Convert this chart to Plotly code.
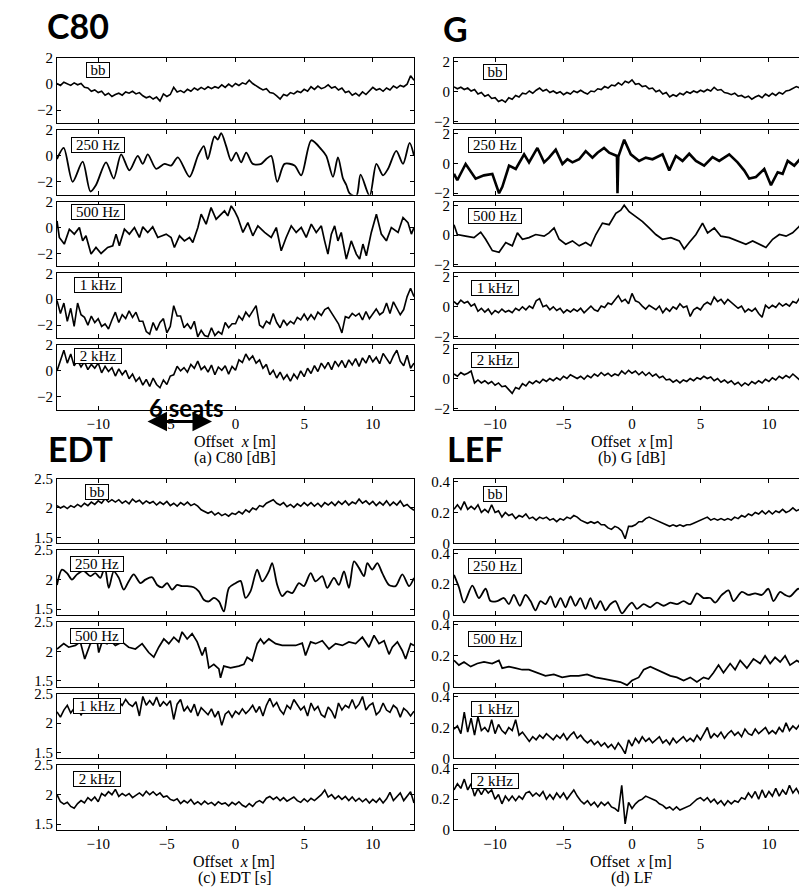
import plotly.graph_objects as go

# ---------------- data ----------------
OFFSET_TICKS = [-10, -5, 0, 5, 10]
GRID_STEP = 0.25  # sampling step of the grid-read series (m), starting at -13 m

# C80 [dB]
C80_BB_Y = [0.05, -0.1, 0.15, 0.0, -0.1, 0.1, -0.05, 0.05, -0.25, -0.3, -0.55, -0.45, -0.65,
            -0.55, -0.85, -0.7, -0.95, -0.8, -0.7, -0.85, -0.6, -0.7, -0.55, -0.75, -0.65,
            -0.9, -1.05, -0.95, -1.15, -1.0, -1.3, -0.75, -0.95, -0.8, -0.25, -0.6, -0.5,
            -0.65, -0.4, -0.55, -0.3, -0.45, -0.25, -0.4, -0.2, -0.35, -0.2, -0.3, -0.05,
            -0.25, 0.0, -0.2, 0.05, -0.1, 0.1, 0.0, 0.3, 0.05, -0.15, -0.3, -0.45,
            -0.35, -0.65, -0.7, -0.9, -1.15, -0.8, -0.9, -0.65, -0.75, -0.55, -0.65, -0.4,
            -0.55, -0.2, -0.4, -0.15, -0.35, -0.25, -0.05, -0.3, -0.2, -0.45, -0.3, -0.65,
            -0.55, -0.85, -0.7, -0.9, -0.6, -0.8, -0.5, -0.25, -0.45, -0.35, -0.55, -0.3,
            -0.45, -0.15, -0.3, -0.1, -0.2, 0.0, 0.65, 0.3]

C80_250_X = [-13, -12.51, -11.86, -11.13, -10.57, -10.16, -9.43, -8.87, -8.33, -7.73, -7.12, -6.75,
             -6.39, -5.78, -5.17, -4.69, -4.2, -3.35, -2.74, -2.31, -2.02, -1.53, -1.29, -1.04,
             -0.68, -0.31, 0.05, 0.41, 0.78, 1.26, 1.87, 2.24, 2.6, 3.04, 3.57, 4.3, 4.79, 5.52,
             6.25, 6.61, 7.1, 7.46, 7.83, 8.07, 8.31, 8.8, 9.11, 9.77, 10.26, 10.74, 11.11,
             11.71, 12.2, 12.68, 13]
C80_250_Y = [-0.25, 0.62, -2.0, -0.45, -2.75, -2.25, -0.5, -1.75, 0.12, -1.12, 0.0, -0.62,
             0.12, -1.0, -0.62, -0.75, -0.12, -1.62, 0.0, 0.75, -0.25, 1.5, 1.25, 1.75,
             0.75, -0.38, 0.25, -0.5, 0.25, -0.62, -0.62, -0.25, 0.0, -2.0, -0.62, -0.75, -1.5, 1.2,
             0.5, 0.0, -1.62, -0.12, -1.75, -2.25, -2.9, -3.1, -1.45, -3.1, -0.62, -1.5, -1.0,
             0.38, -0.62, 1.0, 0.0]

C80_500_X = [-13, -12.83, -12.47, -12.1, -11.74, -11.37, -11.13, -10.89, -10.52, -10.16, -9.79,
             -9.31, -8.94, -8.7, -8.46, -8.09, -7.73, -7.36, -7.0, -6.75, -6.39, -6.03, -5.66,
             -5.05, -4.69, -4.45, -4.08, -3.72, -3.35, -3.11, -2.74, -2.5, -2.14, -1.78, -1.41,
             -1.04, -0.8, -0.56, -0.31, -0.07, 0.17, 0.54, 0.9, 1.26, 1.63, 2.12, 2.6, 2.97,
             3.33, 3.69, 4.06, 4.42, 4.79, 5.15, 5.52, 5.88, 6.25, 6.49, 6.73, 6.98, 7.22,
             7.46, 7.7, 8.07, 8.43, 8.8, 9.04, 9.28, 9.53, 9.89, 10.26, 10.62, 10.99, 11.35,
             11.84, 12.2, 12.56, 12.81, 13]
C80_500_Y = [0.51, -0.77, -1.28, -0.13, -0.51, 0.0, -1.03, -0.64, -2.05, -1.54, -2.0,
             -1.54, -1.41, -0.51, -1.41, -0.13, -0.51, 0.0, -0.77, 0.05, -0.38, 0.05, -0.77,
             -0.51, -0.77, -1.54, -0.64, -1.03, -0.77, -1.15, 0.0, 1.03, 0.26, 1.54, 0.64,
             1.03, 1.28, 0.9, 1.67, 1.28, 0.77, -0.38, 0.38, -0.64, 0.13, -0.38, -0.77, 0.0,
             -1.79, -0.77, 0.13, -0.38, 0.0, -0.77, 0.26, -0.38, 0.13, -1.03, -2.05, -0.51, 0.13,
             -1.03, -0.38, -2.44, -1.03, -2.05, -2.44, -1.28, -2.18, -0.38, 1.03, -0.51, -1.03, 0.0,
             -0.38, 0.77, 0.38, -0.51, 0.0]

C80_1K_Y = [-0.1, -1.1, -0.3, -1.7, -0.7, -2.1, -0.3, -1.2, -1.4, -2.0, -1.3, -1.8, -1.5,
            -2.1, -1.9, -2.3, -1.6, -1.0, -1.8, -1.2, -1.5, -0.9, -1.4, -1.0, -1.7,
            -1.7, -2.5, -2.7, -1.8, -2.4, -1.8, -1.5, -2.6, -2.1, -0.5, -1.3, -1.3,
            -2.2, -1.9, -2.3, -1.7, -2.9, -2.4, -2.8, -2.9, -2.2, -2.8, -2.5, -2.7,
            -1.8, -2.2, -1.9, -1.9, -1.3, -1.6, -1.0, -1.35, -0.9, -0.5, -2.0, -2.2,
            -1.7, -1.9, -1.1, -1.8, -2.2, -1.6, -2.0, -1.7, -1.9, -1.4, -1.6, -1.15,
            -1.6, -1.2, -1.55, -1.0, -1.25, -0.8, -0.65, -1.05, -1.5, -1.9, -2.6, -1.35,
            -1.45, -1.1, -1.3, -1.1, -1.6, -0.95, -1.5, -1.15, -0.75, -1.2, -1.0, -0.3,
            -1.1, -0.2, -0.7, -1.2, -0.8, 0.2, 0.85, 0.2]

C80_2K_Y = [0.0, 0.9, 1.6, 0.6, 1.3, 0.4, 0.8, 0.3, 0.7, 0.1, 0.5, 0.2, 0.6,
            -0.15, 0.35, -0.05, 0.25, -0.4, 0.15, -0.3, 0.05, -0.6, -0.25, -0.8, -0.5,
            -1.1, -0.65, -1.2, -0.55, -1.05, -1.3, -0.7, -1.05, -0.4, -0.3, 0.35, 0.0,
            0.25, -0.1, 0.5, 0.2, 0.75, 0.1, 0.35, -0.1, 0.45, -0.3, 0.3, 0.05,
            0.4, -0.25, 0.35, 0.05, 0.85, 0.65, 1.3, 0.85, 1.15, 0.6, 0.85, 0.2,
            0.5, -0.3, 0.05, -0.55, -0.1, -0.65, -0.3, -0.8, -0.25, -0.6, 0.0, -0.45,
            0.2, -0.2, 0.4, -0.05, 0.6, 0.2, 0.65, 0.1, 0.75, 0.35, 0.8, 0.25,
            0.85, 0.45, 0.95, 0.35, 1.0, 0.6, 1.2, 0.7, 1.05, 0.55, 1.35, 0.9,
            0.55, 1.15, 1.6, 0.75, 0.4, 1.2, 0.2, 0.6]

# G [dB]
G_BB_Y = [0.33, 0.2, 0.3, 0.15, 0.25, 0.05, 0.15, -0.15, -0.05, -0.3, -0.2, -0.45, -0.4,
          -0.65, -0.55, -0.7, -0.4, -0.5, -0.25, -0.35, -0.1, -0.15, 0.05, -0.1, 0.1,
          0.25, 0.05, 0.15, -0.05, 0.05, -0.1, 0.0, -0.2, -0.05, -0.15, 0.05, -0.05,
          0.1, -0.05, -0.15, 0.05, 0.0, 0.2, 0.15, 0.35, 0.25, 0.45, 0.4, 0.6,
          0.45, 0.7, 0.6, 0.8, 0.5, 0.55, 0.35, 0.4, 0.2, 0.25, 0.0, 0.1,
          -0.15, -0.05, -0.35, -0.2, -0.3, -0.1, -0.2, 0.0, -0.1, 0.05, -0.05, 0.1,
          0.0, 0.15, 0.05, 0.3, 0.1, 0.15, -0.05, -0.1, -0.2, -0.1, -0.3, -0.25,
          -0.4, -0.3, -0.5, -0.35, -0.25, -0.4, -0.15, -0.3, -0.1, -0.25, -0.05, -0.15,
          0.05, 0.1, 0.2, 0.35, 0.25, 0.5, 0.45, 0.8]

G_250_X = [-13, -12.76, -12.15, -11.66, -11.42, -10.81, -10.2, -9.71, -9.47, -8.98, -8.49,
           -7.88, -7.52, -6.91, -6.42, -6.06, -5.57, -5.08, -4.72, -4.35, -3.86, -3.38, -2.89,
           -2.52, -2.04, -1.67, -1.3, -1.1, -1.06, -1.0, -0.94, -0.57, -0.09, 0.52, 1.01, 1.5,
           2.23, 2.72, 3.2, 3.69, 4.18, 4.67, 5.27, 5.88, 6.37, 7.1, 7.71, 8.2, 8.56, 9.05,
           9.66, 10.15, 10.64, 11.0, 11.37, 11.85, 12.46, 13]
G_250_Y = [-0.7, -1.13, -0.04, -0.7, -1.02, -0.8, -0.7, -2.0, -1.57, -0.15, -0.37,
           0.61, 0.07, 1.04, 0.07, 0.39, 0.93, -0.04, 0.28, 0.07, 0.28, 0.83, 0.39,
           0.72, 1.04, 0.72, 0.61, 0.5, -2.0, 0.45, 0.61, 1.59, 0.61, 0.17, 0.39, 0.28,
           0.61, -0.48, 0.5, 0.17, 0.65, 0.17, -0.15, 0.43, 0.17, 0.61, 0.07, -0.48, -1.02, -0.91,
           -0.37, -1.46, -0.59, -0.7, 0.17, -0.15, 0.5, 0.17]

G_500_X = [-13, -12.76, -12.15, -11.54, -11.05, -10.69, -10.2, -9.71, -9.22, -8.74, -8.37, -8.0,
           -7.52, -7.03, -6.42, -6.06, -5.69, -5.32, -4.84, -4.35, -3.86, -3.38, -3.01, -2.64,
           -2.16, -1.67, -1.18, -0.82, -0.57, -0.21, 0.28, 0.77, 1.25, 1.74, 2.23, 2.84, 3.45,
           3.81, 4.18, 4.67, 5.15, 5.52, 6.01, 6.49, 7.1, 7.71, 8.32, 8.81, 9.3, 9.78, 10.27,
           10.76, 11.25, 11.73, 12.22, 12.51, 12.83, 13]
G_500_Y = [0.7, 0.04, -0.07, -0.17, 0.2, -0.28, -1.04, -1.15, -0.5, -0.72, 0.15, -0.28,
           -0.17, 0.04, -0.07, 0.15, 0.48, -0.28, -0.61, -0.39, -0.72, -0.5, -0.72, 0.04,
           0.8, 0.7, 1.46, 1.67, 2.0, 1.57, 1.24, 0.91, 0.48, 0.04, -0.28, -0.17, -0.39,
           -0.93, -0.5, 0.04, 0.8, 0.15, 0.48, -0.07, -0.17, -0.39, -0.61, -0.39, -0.61, -0.83, -0.28,
           0.04, -0.07, 0.15, 0.59, 1.13, 0.37, 0.59]

G_1K_Y = [0.35, 0.15, 0.45, 0.25, 0.35, 0.05, 0.2, -0.3, -0.1, -0.35, -0.15, -0.5, -0.25,
          -0.4, -0.15, -0.35, -0.25, -0.4, -0.1, -0.25, 0.0, -0.2, 0.05, -0.1, 0.4,
          0.55, 0.0, 0.1, -0.2, 0.0, -0.25, -0.1, -0.4, -0.2, -0.35, -0.15, -0.3,
          -0.1, -0.4, -0.15, 0.05, -0.2, -0.3, 0.05, -0.05, 0.25, 0.15, 0.45, 0.75,
          0.35, 0.5, 0.2, 0.9, 0.4, 0.3, 0.05, -0.15, 0.1, -0.05, -0.2, 0.05,
          -0.4, -0.1, -0.3, 0.0, -0.15, 0.2, -0.05, 0.05, -0.65, -0.2, -0.05, -0.2,
          0.15, 0.3, 0.15, 0.65, 0.35, 0.5, 0.2, 0.5, 0.3, 0.1, -0.1, 0.05,
          -0.35, -0.15, -0.3, -0.1, -0.45, -0.7, 0.1, -0.1, 0.1, -0.05, 0.25, 0.05,
          0.2, 0.05, 0.35, 0.25, 0.6, 0.45, 1.1, 0.75]

G_2K_Y = [0.3, 0.15, 0.4, 0.25, 0.35, 0.5, -0.3, -0.1, -0.3, -0.15, -0.35, -0.2, -0.45,
          -0.3, -0.55, -0.5, -0.75, -1.0, -0.6, -0.7, -0.35, -0.5, -0.2, -0.35, -0.15,
          -0.3, -0.05, -0.2, 0.0, -0.15, 0.05, -0.1, 0.15, 0.0, 0.25, 0.1, 0.0,
          0.15, -0.05, 0.2, 0.05, 0.3, 0.15, 0.4, 0.2, 0.35, 0.15, 0.3, 0.2,
          0.5, 0.3, 0.55, 0.35, 0.5, 0.25, 0.45, 0.2, 0.4, 0.15, 0.3, 0.05,
          0.15, -0.1, -0.05, -0.25, -0.1, -0.3, -0.1, -0.2, 0.0, -0.15, 0.05, -0.05,
          0.15, 0.0, 0.1, -0.15, 0.0, -0.25, -0.1, -0.3, -0.15, -0.4, -0.25, -0.5,
          -0.3, -0.45, -0.2, -0.35, -0.15, -0.3, -0.05, -0.2, 0.05, -0.1, 0.15, 0.0,
          0.2, 0.05, 0.3, 0.1, -0.1, 0.3, 0.5, 0.7]

# EDT [s]
EDT_BB_Y = [2.04, 2.0, 2.03, 1.99, 2.04, 2.01, 2.06, 2.02, 2.08, 2.04, 2.1, 2.06, 2.12,
            2.08, 2.16, 2.1, 2.14, 2.1, 2.14, 2.08, 2.12, 2.07, 2.15, 2.1, 2.13,
            2.07, 2.12, 2.08, 2.11, 2.05, 2.1, 2.06, 2.11, 2.04, 2.08, 2.03, 2.09,
            2.05, 2.1, 2.04, 2.07, 2.03, 1.97, 1.94, 1.91, 1.94, 1.88, 1.92, 1.87,
            1.9, 1.86, 1.91, 1.89, 1.94, 1.9, 1.97, 1.93, 2.0, 1.97, 2.04, 2.02,
            2.08, 2.11, 2.14, 2.08, 2.05, 2.09, 2.02, 2.06, 2.01, 2.07, 2.03, 2.09,
            2.04, 2.09, 2.03, 2.08, 2.02, 2.09, 2.05, 2.1, 2.04, 2.11, 2.06, 2.12,
            2.05, 2.1, 2.07, 2.15, 2.08, 2.12, 2.06, 2.11, 2.04, 2.1, 2.05, 2.12,
            2.04, 2.1, 2.05, 2.12, 2.03, 2.06, 2.0, 1.96]

EDT_250_X = [-13, -12.64, -12.27, -11.91, -11.54, -11.06, -10.57, -10.21, -9.84, -9.52, -9.23,
             -8.87, -8.5, -8.14, -7.78, -7.41, -6.92, -6.56, -6.07, -5.71, -5.34, -4.98, -4.62,
             -4.25, -3.89, -3.52, -3.04, -2.67, -2.31, -1.94, -1.58, -1.21, -0.85, -0.48, 0.0,
             0.37, 0.73, 1.09, 1.58, 1.95, 2.43, 2.67, 3.04, 3.4, 3.77, 4.13, 4.62, 4.98, 5.47,
             5.83, 6.32, 6.68, 7.17, 7.53, 7.9, 8.26, 8.63, 8.99, 9.36, 9.6, 9.96, 10.33, 10.69,
             11.18, 11.66, 12.15, 12.64, 13]
EDT_250_Y = [1.91, 2.17, 2.11, 2.0, 2.09, 2.15, 2.06, 2.11, 2.03, 2.21, 1.86,
             2.14, 2.03, 1.83, 1.97, 2.09, 1.94, 2.0, 2.04, 1.91, 1.87, 1.94, 1.83,
             1.91, 1.89, 1.89, 1.87, 1.8, 1.66, 1.63, 1.69, 1.63, 1.46, 1.86, 1.94,
             1.98, 1.69, 1.8, 2.17, 1.97, 2.14, 2.28, 1.91, 1.72, 1.8, 1.77, 1.94, 1.89, 2.11,
             1.97, 2.06, 1.86, 2.03, 1.91, 2.14, 1.86, 2.31, 2.2, 2.06, 2.28, 2.17, 2.28, 2.11,
             1.91, 1.89, 2.09, 1.89, 2.03]

EDT_500_X = [-13, -12.51, -12.15, -11.66, -11.3, -10.98, -10.57, -10.08, -9.96, -9.72, -9.35,
             -9.11, -8.75, -8.26, -7.78, -7.29, -6.8, -6.32, -5.95, -5.59, -5.22, -4.86, -4.49,
             -4.13, -3.89, -3.52, -3.16, -2.79, -2.43, -2.19, -1.94, -1.58, -1.21, -1.09, -0.85,
             -0.36, 0.24, 0.61, 0.85, 1.22, 1.58, 1.82, 2.07, 2.43, 2.92, 3.4, 3.89, 4.38, 4.86,
             5.1, 5.47, 5.83, 6.32, 6.81, 7.29, 7.78, 8.26, 8.75, 9.24, 9.72, 10.09, 10.45, 10.82,
             11.18, 11.42, 11.79, 12.15, 12.39, 12.76, 13]
EDT_500_Y = [2.04, 2.13, 2.07, 2.1, 2.16, 1.87, 2.13, 2.18, 1.98, 2.16, 2.13,
             2.18, 2.1, 2.16, 2.07, 2.04, 2.13, 1.98, 1.9, 2.07, 2.21, 2.13, 2.24,
             2.16, 2.33, 2.21, 2.3, 2.16, 1.93, 2.07, 1.72, 1.78, 1.7, 1.55, 1.75,
             1.72, 1.75, 1.78, 1.9, 1.84, 2.13, 2.21, 2.13, 2.21, 2.13, 2.1, 2.1, 2.1, 2.14,
             1.93, 2.16, 2.13, 2.18, 2.04, 2.13, 2.1, 2.16, 2.13, 2.24, 2.07, 2.27, 2.13, 2.18,
             1.95, 2.07, 2.16, 2.01, 1.87, 2.13, 2.1]

EDT_1K_Y = [2.19, 2.1, 2.22, 2.3, 2.17, 2.25, 2.3, 2.13, 2.28, 2.2, 2.3, 2.22, 2.3,
            2.24, 2.32, 2.26, 2.34, 2.25, 2.36, 2.3, 2.4, 2.32, 2.28, 2.36, 2.12,
            2.45, 2.3, 2.38, 2.3, 2.44, 2.28, 2.36, 2.3, 2.38, 2.06, 2.32, 2.4,
            2.2, 2.28, 2.18, 2.32, 2.12, 2.26, 2.2, 2.14, 2.24, 2.1, 2.2, 1.96,
            2.15, 2.2, 2.1, 2.2, 2.15, 2.24, 2.16, 2.22, 2.3, 2.18, 2.28, 2.12,
            2.3, 2.42, 2.28, 2.35, 2.22, 2.15, 2.3, 2.24, 2.4, 2.3, 2.22, 2.28,
            2.12, 2.34, 2.22, 2.28, 2.14, 2.1, 2.27, 2.2, 2.08, 2.34, 2.22, 2.3,
            2.26, 2.4, 2.25, 2.32, 2.45, 2.22, 2.3, 2.34, 2.14, 2.2, 2.34, 2.22,
            2.18, 2.3, 2.25, 2.1, 2.25, 2.2, 2.12, 2.2]

EDT_2K_Y = [2.0, 1.88, 1.84, 1.87, 1.8, 1.77, 1.85, 1.9, 1.86, 1.95, 1.9, 1.96, 1.88,
            2.02, 1.98, 2.05, 2.0, 2.09, 1.97, 2.02, 1.98, 2.02, 1.95, 1.99, 2.03,
            1.98, 2.06, 2.0, 2.05, 1.99, 2.03, 1.96, 1.98, 1.92, 1.9, 1.93, 1.85,
            1.9, 1.86, 1.92, 1.84, 1.88, 1.83, 1.89, 1.84, 1.87, 1.82, 1.88, 1.84,
            1.86, 1.81, 1.87, 1.83, 1.88, 1.82, 1.79, 1.85, 1.8, 1.87, 1.9, 1.86,
            1.94, 1.97, 1.92, 1.96, 1.9, 1.95, 1.89, 1.93, 1.96, 1.9, 1.87, 1.93,
            1.88, 1.94, 1.9, 1.95, 2.0, 2.08, 1.96, 2.0, 1.93, 1.98, 1.92, 1.97,
            1.9, 1.96, 1.89, 1.94, 1.88, 1.93, 1.86, 1.92, 1.87, 1.94, 1.86, 1.93,
            2.04, 1.9, 1.97, 2.03, 1.9, 1.98, 2.05, 1.86]

# LF
LF_BB_Y = [0.22, 0.25, 0.22, 0.27, 0.22, 0.24, 0.22, 0.25, 0.2, 0.22, 0.2, 0.25, 0.2,
           0.21, 0.17, 0.2, 0.18, 0.19, 0.16, 0.18, 0.17, 0.19, 0.16, 0.17, 0.15,
           0.17, 0.16, 0.17, 0.15, 0.16, 0.14, 0.16, 0.15, 0.17, 0.16, 0.18, 0.17,
           0.15, 0.14, 0.13, 0.14, 0.13, 0.14, 0.12, 0.12, 0.1, 0.09, 0.11, 0.1,
           0.08, 0.03, 0.11, 0.11, 0.12, 0.14, 0.14, 0.16, 0.17, 0.16, 0.15, 0.14,
           0.13, 0.12, 0.11, 0.12, 0.11, 0.12, 0.11, 0.12, 0.12, 0.13, 0.14, 0.15,
           0.16, 0.17, 0.15, 0.16, 0.15, 0.16, 0.15, 0.16, 0.15, 0.17, 0.16, 0.18,
           0.17, 0.19, 0.18, 0.2, 0.19, 0.21, 0.19, 0.21, 0.19, 0.21, 0.2, 0.22,
           0.2, 0.21, 0.23, 0.21, 0.22, 0.2, 0.21, 0.2]

LF_250_X = [-13, -12.64, -12.27, -11.66, -11.18, -10.69, -10.33, -9.84, -9.35, -8.99, -8.63,
            -8.19, -7.78, -7.41, -7.05, -6.68, -6.32, -5.95, -5.59, -5.22, -4.86, -4.49, -4.13,
            -3.77, -3.4, -3.04, -2.67, -2.31, -1.94, -1.58, -1.21, -0.73, -0.36, 0.0, 0.36, 0.85,
            1.34, 1.82, 2.31, 2.8, 3.28, 3.77, 4.25, 4.74, 5.23, 5.71, 6.08, 6.56, 7.05, 7.41,
            8.02, 8.51, 8.99, 9.48, 9.96, 10.33, 10.82, 11.18, 11.54, 12.15, 12.52, 12.76, 13]
LF_250_Y = [0.26, 0.18, 0.08, 0.19, 0.11, 0.17, 0.09, 0.09, 0.11, 0.07, 0.13,
            0.06, 0.13, 0.09, 0.03, 0.09, 0.07, 0.12, 0.05, 0.11, 0.05, 0.12, 0.06,
            0.11, 0.04, 0.11, 0.04, 0.09, 0.03, 0.07, 0.09, 0.01, 0.05, 0.08, 0.04, 0.07,
            0.05, 0.08, 0.06, 0.08, 0.07, 0.09, 0.07, 0.14, 0.11, 0.11, 0.08, 0.13, 0.16, 0.09,
            0.15, 0.13, 0.14, 0.13, 0.17, 0.09, 0.15, 0.13, 0.12, 0.17, 0.14, 0.08, 0.16]

LF_500_X = [-13, -12.64, -12.27, -11.78, -11.3, -10.81, -10.21, -9.72, -9.48, -8.99, -8.5, -8.02,
            -7.53, -6.92, -6.32, -5.71, -5.1, -4.49, -3.89, -3.28, -2.67, -2.06, -1.46, -0.85,
            -0.36, 0.0, 0.49, 0.85, 1.34, 1.82, 2.31, 2.8, 3.28, 3.77, 4.25, 4.74, 5.23, 5.59,
            5.95, 6.32, 6.68, 7.17, 7.53, 7.9, 8.39, 8.87, 9.36, 9.72, 10.09, 10.45, 10.82,
            11.18, 11.54, 12.03, 12.39, 12.64, 13]
LF_500_Y = [0.17, 0.14, 0.16, 0.13, 0.15, 0.16, 0.15, 0.17, 0.12, 0.13, 0.12, 0.11,
            0.11, 0.09, 0.07, 0.08, 0.06, 0.07, 0.07, 0.08, 0.06, 0.05, 0.04, 0.03,
            0.01, 0.04, 0.06, 0.11, 0.13, 0.11, 0.09, 0.07, 0.06, 0.04, 0.06, 0.03, 0.06, 0.05,
            0.09, 0.14, 0.09, 0.15, 0.11, 0.17, 0.12, 0.18, 0.15, 0.2, 0.15, 0.19, 0.16,
            0.2, 0.14, 0.17, 0.15, 0.19, 0.14]

LF_1K_Y = [0.19, 0.21, 0.16, 0.3, 0.17, 0.26, 0.15, 0.27, 0.18, 0.2, 0.17, 0.25, 0.16,
           0.22, 0.18, 0.16, 0.2, 0.18, 0.25, 0.15, 0.17, 0.14, 0.11, 0.14, 0.12,
           0.15, 0.13, 0.16, 0.14, 0.12, 0.15, 0.13, 0.16, 0.12, 0.15, 0.17, 0.13,
           0.15, 0.12, 0.1, 0.12, 0.09, 0.11, 0.08, 0.1, 0.07, 0.09, 0.06, 0.1,
           0.07, 0.03, 0.12, 0.08, 0.13, 0.1, 0.14, 0.11, 0.13, 0.1, 0.12, 0.14,
           0.1, 0.12, 0.09, 0.13, 0.1, 0.12, 0.14, 0.11, 0.13, 0.11, 0.15, 0.12,
           0.16, 0.2, 0.13, 0.16, 0.14, 0.17, 0.13, 0.16, 0.18, 0.15, 0.17, 0.14,
           0.19, 0.16, 0.15, 0.19, 0.16, 0.18, 0.2, 0.16, 0.18, 0.16, 0.2, 0.17,
           0.23, 0.18, 0.21, 0.19, 0.22, 0.18, 0.21, 0.2]

LF_2K_Y = [0.26, 0.3, 0.27, 0.33, 0.26, 0.3, 0.22, 0.27, 0.23, 0.27, 0.24, 0.26, 0.2,
           0.23, 0.17, 0.22, 0.19, 0.22, 0.19, 0.22, 0.2, 0.24, 0.25, 0.22, 0.24,
           0.22, 0.25, 0.2, 0.23, 0.2, 0.24, 0.21, 0.24, 0.2, 0.23, 0.26, 0.22,
           0.19, 0.17, 0.19, 0.16, 0.18, 0.15, 0.18, 0.16, 0.18, 0.15, 0.14, 0.12,
           0.29, 0.04, 0.18, 0.14, 0.17, 0.19, 0.2, 0.22, 0.21, 0.2, 0.19, 0.17,
           0.16, 0.14, 0.15, 0.13, 0.15, 0.13, 0.14, 0.15, 0.16, 0.18, 0.2, 0.21,
           0.19, 0.21, 0.18, 0.2, 0.17, 0.19, 0.16, 0.19, 0.17, 0.19, 0.18, 0.21,
           0.2, 0.24, 0.21, 0.25, 0.2, 0.26, 0.21, 0.25, 0.22, 0.27, 0.22, 0.26,
           0.23, 0.29, 0.24, 0.27, 0.23, 0.25, 0.21, 0.22]

BAND_LABELS = ["bb", "250 Hz", "500 Hz", "1 kHz", "2 kHz"]


def grid_x(values):
    """Offsets (m) of the grid-read series: one reading every GRID_STEP from -13 m."""
    return [-13 + GRID_STEP * i for i in range(len(values))]


# ---------------- layout helpers ----------------
W, H = 807, 887
SERIF = "Liberation Serif, Times New Roman, serif"
COLS = {0: (49, 406), 1: (446, 802)}
UPPER_TOPS = [43, 116, 189, 262, 335]
LOWER_TOPS = [471, 544, 617, 690, 763]
ROW_H = 66
NOISY_W = 1.6

panels = [
    dict(col=0, tops=UPPER_TOPS, yr=[-3, 2], yt=[-2, 0, 2], lab_x=90,
         lab_y=[55, 131, 200, 274, 346],
         series=[(grid_x(C80_BB_Y), C80_BB_Y, "linear", NOISY_W),
                 (C80_250_X, C80_250_Y, "spline", 1.8),
                 (C80_500_X, C80_500_Y, "linear", 1.7),
                 (grid_x(C80_1K_Y), C80_1K_Y, "linear", NOISY_W),
                 (grid_x(C80_2K_Y), C80_2K_Y, "linear", NOISY_W)]),
    dict(col=1, tops=UPPER_TOPS, yr=[-2.1, 2.25], yt=[-2, 0, 2], lab_x=487,
         lab_y=[57, 131, 204, 277, 350],
         series=[(grid_x(G_BB_Y), G_BB_Y, "linear", NOISY_W),
                 (G_250_X, G_250_Y, "linear", 2.6),
                 (G_500_X, G_500_Y, "linear", 1.7),
                 (grid_x(G_1K_Y), G_1K_Y, "linear", NOISY_W),
                 (grid_x(G_2K_Y), G_2K_Y, "linear", NOISY_W)]),
    dict(col=0, tops=LOWER_TOPS, yr=[1.4, 2.5], yt=[1.5, 2, 2.5], lab_x=89,
         lab_y=[485, 558, 631, 703, 777],
         series=[(grid_x(EDT_BB_Y), EDT_BB_Y, "linear", NOISY_W),
                 (EDT_250_X, EDT_250_Y, "spline", 1.8),
                 (EDT_500_X, EDT_500_Y, "linear", 1.7),
                 (grid_x(EDT_1K_Y), EDT_1K_Y, "linear", NOISY_W),
                 (grid_x(EDT_2K_Y), EDT_2K_Y, "linear", NOISY_W)]),
    dict(col=1, tops=LOWER_TOPS, yr=[0, 0.42], yt=[0, 0.2, 0.4], lab_x=487,
         lab_y=[487, 560, 634, 706, 779],
         series=[(grid_x(LF_BB_Y), LF_BB_Y, "linear", NOISY_W),
                 (LF_250_X, LF_250_Y, "spline", 1.8),
                 (LF_500_X, LF_500_Y, "linear", 1.7),
                 (grid_x(LF_1K_Y), LF_1K_Y, "linear", NOISY_W),
                 (grid_x(LF_2K_Y), LF_2K_Y, "linear", NOISY_W)]),
]
LABEL_W = [22, 52, 52, 46, 46]

fig = go.Figure()
layout = dict(width=W, height=H, margin=dict(l=0, r=0, t=0, b=0),
              paper_bgcolor="white", plot_bgcolor="white", showlegend=False,
              font=dict(family=SERIF, size=15, color="black"))
annotations = []

k = 0
for p in panels:
    x0, x1 = COLS[p["col"]]
    for r in range(5):
        k += 1
        sx = "" if k == 1 else str(k)
        top = p["tops"][r]
        xs, ys, shape, lw = p["series"][r]
        fig.add_trace(go.Scatter(x=xs, y=ys, mode="lines",
                                 line=dict(color="black", width=lw, shape=shape, smoothing=0.8),
                                 xaxis="x" + sx, yaxis="y" + sx, hoverinfo="skip"))
        common = dict(showline=True, mirror="ticks", linecolor="black", linewidth=1,
                      ticks="inside", ticklen=4, tickcolor="black", tickwidth=1,
                      showgrid=False, zeroline=False,
                      tickfont=dict(family=SERIF, size=15, color="black"))
        layout["xaxis" + sx] = dict(common, domain=[x0 / W, x1 / W], range=[-13, 13],
                                    tickvals=OFFSET_TICKS, anchor="y" + sx,
                                    showticklabels=(r == 4))
        layout["yaxis" + sx] = dict(common, domain=[1 - (top + ROW_H) / H, 1 - top / H],
                                    range=p["yr"], tickvals=p["yt"], anchor="x" + sx)
        annotations.append(dict(x=p["lab_x"] / W, y=1 - p["lab_y"][r] / H, xref="paper",
                                yref="paper", text=BAND_LABELS[r], showarrow=False,
                                font=dict(family=SERIF, size=15, color="black"),
                                bordercolor="black", borderwidth=1, borderpad=0,
                                bgcolor="white", width=LABEL_W[r], height=14,
                                xanchor="center", yanchor="middle"))

# axis titles and captions
for cx, y1, y2, cap in [(227, 433, 450, "(a) C80 [dB]"), (624, 433, 450, "(b) G [dB]"),
                        (226, 861, 878, "(c) EDT [s]"), (623, 861, 878, "(d) LF")]:
    annotations.append(dict(x=cx / W, y=1 - y1 / H, xref="paper", yref="paper",
                            text="Offset  <i>x</i> [m]", showarrow=False,
                            font=dict(family=SERIF, size=16, color="black"),
                            xanchor="center", yanchor="middle"))
    annotations.append(dict(x=cx / W, y=1 - y2 / H, xref="paper", yref="paper",
                            text=cap, showarrow=False,
                            font=dict(family=SERIF, size=16, color="black"),
                            xanchor="center", yanchor="middle"))

# big panel titles
for tx, ty, t in [(37, 10, "C80"), (433, 13, "G"), (38, 440, "EDT"), (437, 440, "LEF")]:
    annotations.append(dict(x=tx / W, y=1 - ty / H, xref="paper", yref="paper",
                            text="<b>" + t + "</b>", showarrow=False,
                            font=dict(family="Lato", size=34, color="black"),
                            xanchor="left", yanchor="middle"))

# "6 seats" marker
annotations.append(dict(x=178 / W, y=1 - 399 / H, xref="paper", yref="paper",
                        text="<b>6 seats</b>", showarrow=False,
                        font=dict(family="Lato", size=24, color="black"),
                        xanchor="center", yanchor="middle"))
annotations.append(dict(x=204 / W, y=1 - 413 / H, xref="paper", yref="paper",
                        ax=-66, ay=0, text="", showarrow=True,
                        arrowside="end+start", arrowhead=2, startarrowhead=2,
                        arrowsize=1.3, startarrowsize=1.3, arrowwidth=3, arrowcolor="black"))

layout["annotations"] = annotations
fig.update_layout(**layout)
fig.write_html("out.html")
